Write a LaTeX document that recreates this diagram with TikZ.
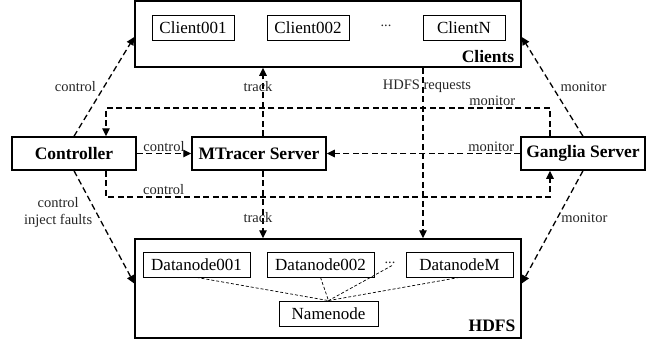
\documentclass[tikz,border=0pt]{standalone}
\usepackage{fontspec}
\setmainfont{Liberation Serif}
\usetikzlibrary{arrows.meta,positioning}
\begin{document}
\begin{tikzpicture}[x=1pt,y=-1pt,
 outerbox/.style={draw,line width=1.5pt,inner sep=0pt},
 server/.style={draw,line width=1.5pt,minimum height=33pt,inner sep=0pt,font=\fontsize{17.5}{20}\selectfont\bfseries},
 innerbox/.style={draw,line width=0.8pt,minimum height=25pt,inner sep=0pt,font=\fontsize{17}{20}\selectfont},
 lbl/.style={font=\fontsize{14.5}{16.5}\selectfont,inner sep=1.5pt,text=black!85},
 conn/.style={line width=1.3pt,dash pattern=on 6pt off 3.5pt,-{Triangle[length=8pt,width=7.5pt]}},
 thinconn/.style={line width=0.7pt,dash pattern=on 3pt off 2pt},
 boxtitle/.style={font=\fontsize{17.5}{20}\selectfont\bfseries,inner sep=0pt}]
\useasboundingbox (0,0) rectangle (654,343);

% Clients
\node[outerbox,minimum width=386pt,minimum height=66pt] (clients) at (328,34) {};
\node[boxtitle] (clientsT) at (488,57) {Clients};
\node[innerbox,minimum width=82pt] (c1) at (193,27.5) {Client001};
\node[innerbox,minimum width=82pt] (c2) at (308,27.5) {Client002};
\node[lbl] (cdots) at (386,26) {...};
\node[innerbox,minimum width=82pt] (cN) at (464,27.5) {ClientN};

% HDFS
\node[outerbox,minimum width=386pt,minimum height=99pt] (hdfs) at (328,288.5) {};
\node[boxtitle] (hdfsT) at (492,326) {HDFS};
\node[innerbox,minimum width=107pt] (d1) at (196.5,264.5) {Datanode001};
\node[innerbox,minimum width=107pt] (d2) at (320.5,264.5) {Datanode002};
\node[lbl] (ddots) at (390,263) {...};
\node[innerbox,minimum width=107pt] (dM) at (459.5,264.5) {DatanodeM};
\node[innerbox,minimum width=99pt] (nn) at (328.5,313.5) {Namenode};

% servers
\node[server,minimum width=124pt] (ctrl) at (74,153.5) {Controller};
\node[server,minimum width=134pt] (mt) at (259,153.5) {MTracer Server};
\node[server,minimum width=124pt] (gs) at (583,153.5) {Ganglia Server};

\coordinate (trk) at (263,0);
\coordinate (req) at (423,0);
\coordinate (mon) at (106,108);
\coordinate (ctl) at (550,197);

% connectors
\draw[conn] (ctrl.north) -- ([yshift=-3pt]clients.west) node[lbl,midway,left=6pt]{control};
\draw[conn] (ctrl.south) -- ([yshift=5pt]hdfs.west) node[lbl,pos=0.37,left=2pt,align=center]{control\\inject faults};
\draw[conn] (gs.north) -- ([yshift=-3pt]clients.east) node[lbl,midway,right=6pt]{monitor};
\draw[conn] (gs.south) -- ([yshift=5pt]hdfs.east) node[lbl,pos=0.42,right=2pt]{monitor};
\draw[conn] (ctrl.east) -- (mt.west) node[lbl,midway,above]{control};
\draw[conn] (gs.west) -- (mt.east) node[lbl,pos=0.15,above]{monitor};
\draw[conn] (gs.north -| ctl) |- (mon) node[lbl,pos=0.565,above]{monitor} -- (ctrl.north -| mon);
\draw[conn] (ctrl.south -| mon) |- (ctl) node[lbl,pos=0.565,above]{control} -- (gs.south -| ctl);
\draw[conn] (mt.north -| trk) -- (clients.south -| trk) node[lbl,pos=0.73,xshift=-5pt]{track};
\draw[conn] (mt.south -| trk) -- (hdfs.north -| trk) node[lbl,pos=0.7,xshift=-5pt]{track};
\draw[conn] (clients.south -| req) -- (hdfs.north -| req) node[lbl,pos=0.11,xshift=4pt]{HDFS requests};

% namenode links
\draw[thinconn] (d1.south) -- (nn.north);
\draw[thinconn] (d2.south) -- (nn.north);
\draw[thinconn] ([xshift=2pt]ddots.south) -- (nn.north);
\draw[thinconn] (dM.south) -- (nn.north);
\end{tikzpicture}
\end{document}
